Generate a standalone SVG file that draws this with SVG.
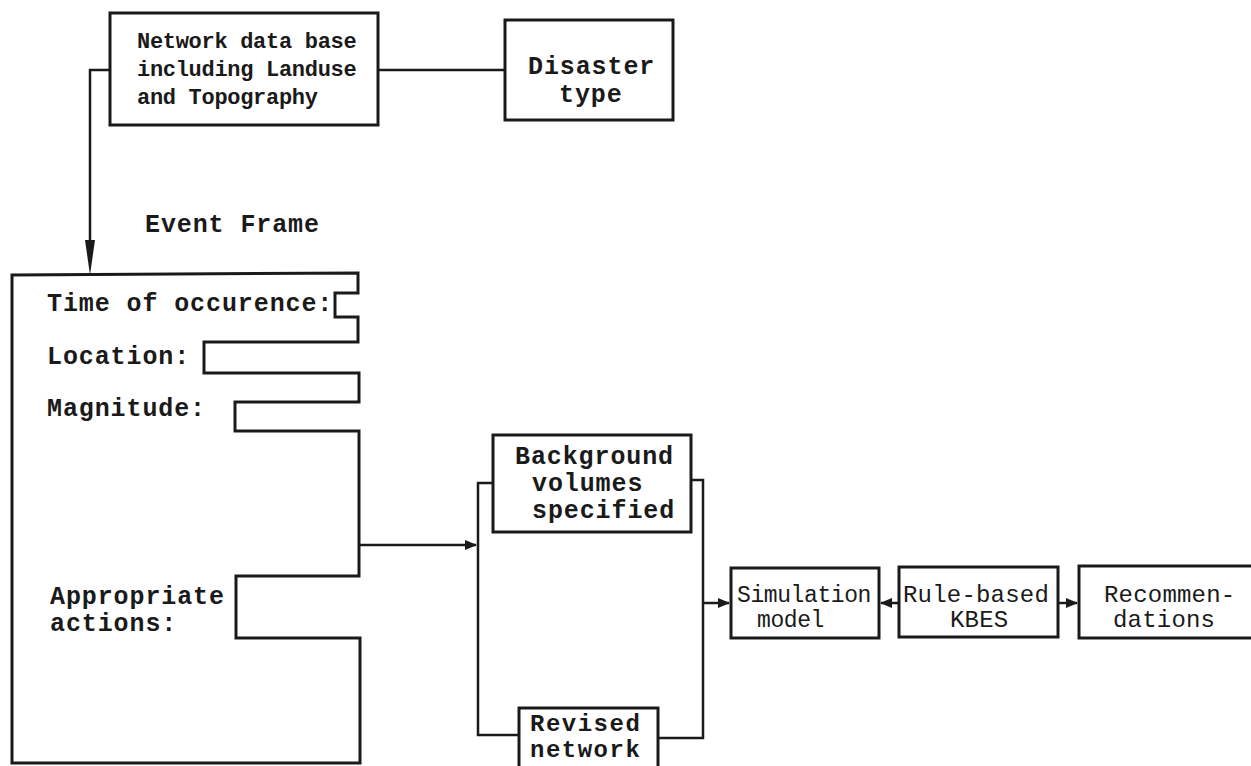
<svg xmlns="http://www.w3.org/2000/svg" width="1251" height="766" viewBox="0 0 1251 766">
<style>
.box{fill:#fff;stroke:#1a1a1a;stroke-width:3}
.ln{fill:none;stroke:#1a1a1a;stroke-width:2.5}
text{font-family:"Liberation Mono","DejaVu Sans Mono",monospace;fill:#1a1a1a}
.t1{font-size:22px;font-weight:bold;letter-spacing:-0.3px}
.t2{font-size:25px;font-weight:bold;letter-spacing:0.9px}
.t2s{font-size:24px;font-weight:bold;letter-spacing:1.5px}
.t3{font-size:24px;letter-spacing:0.2px}
.t3s{font-size:23px;letter-spacing:-0.4px}
</style>
<defs>
<marker id="head" markerUnits="userSpaceOnUse" markerWidth="12" markerHeight="10" refX="11" refY="5" orient="auto" viewBox="0 0 12 10">
<path d="M0,0 L12,5 L0,10 Z" fill="#1a1a1a"/>
</marker>
</defs>
<rect width="1251" height="766" fill="#fff"/>

<g id="connectors">
<line class="ln" x1="378" y1="70" x2="505" y2="70"/>
<polyline class="ln" points="110,70 90,70 90,240"/>
<path d="M85,240 L95,240 L90,275 Z" fill="#1a1a1a"/>
<line class="ln" x1="360" y1="545" x2="476" y2="545" marker-end="url(#head)"/>
<polyline class="ln" points="493,483 478,483 478,735 519,735"/>
<polyline class="ln" points="691,480 703,480 703,738 658,738"/>
<line class="ln" x1="703" y1="603" x2="729" y2="603" marker-end="url(#head)"/>
<line class="ln" x1="899" y1="603" x2="881" y2="603" marker-end="url(#head)"/>
<line class="ln" x1="1058" y1="603" x2="1077" y2="603" marker-end="url(#head)"/>
</g>

<g id="network-db">
<rect class="box" x="110" y="13" width="268" height="112"/>
<text class="t1" x="137" y="48">Network data base</text>
<text class="t1" x="137" y="76">including Landuse</text>
<text class="t1" x="137" y="104">and Topography</text>
</g>

<g id="disaster-type">
<rect class="box" x="505" y="20" width="168" height="100"/>
<text class="t2" x="528" y="74">Disaster</text>
<text class="t2" x="559" y="102">type</text>
</g>

<g id="event-frame-label">
<text class="t2" x="145" y="232">Event Frame</text>
</g>

<g id="event-frame">
<polygon class="box" points="12,275 358,273 358,293 335,293 335,317 358,317 358,342 204,342 204,373 359,373 359,402 235,402 235,431 359,431 359,576 236,576 236,638 360,638 360,763 12,763"/>
<text class="t2" x="47" y="311">Time of occurence:</text>
<text class="t2" x="47" y="364">Location:</text>
<text class="t2" x="47" y="416">Magnitude:</text>
<text class="t2" x="50" y="604">Appropriate</text>
<text class="t2" x="50" y="631">actions:</text>
</g>

<g id="background-volumes">
<rect class="box" x="493" y="435" width="198" height="97"/>
<text class="t2" x="515" y="464">Background</text>
<text class="t2" x="532" y="491">volumes</text>
<text class="t2" x="532" y="518">specified</text>
</g>

<g id="revised-network">
<rect class="box" x="519" y="708" width="139" height="70"/>
<text class="t2s" x="530" y="731">Revised</text>
<text class="t2s" x="530" y="757">network</text>
</g>

<g id="simulation-model">
<rect class="box" x="731" y="568" width="148" height="70"/>
<text class="t3s" x="737" y="602">Simulation</text>
<text class="t3s" x="757" y="627">model</text>
</g>

<g id="rule-based-kbes">
<rect class="box" x="899" y="567" width="159" height="70"/>
<text class="t3" x="903" y="602">Rule-based</text>
<text class="t3" x="950" y="627">KBES</text>
</g>

<g id="recommendations">
<polyline class="box" points="1253,566 1079,566 1079,638 1253,638"/>
<text class="t3" x="1104" y="602">Recommen-</text>
<text class="t3" x="1113" y="627">dations</text>
</g>
</svg>
